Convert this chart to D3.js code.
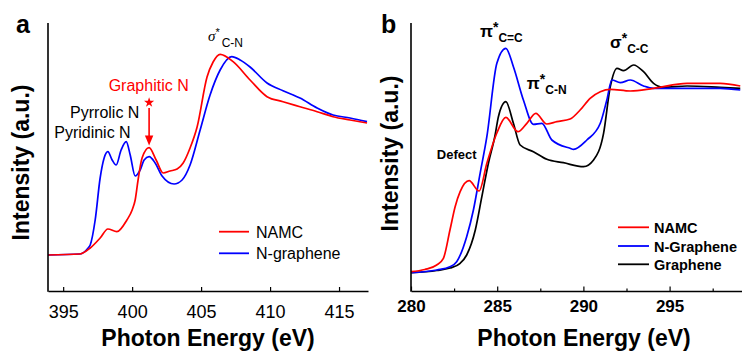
<!DOCTYPE html>
<html><head><meta charset="utf-8">
<script src="https://cdn.jsdelivr.net/npm/d3@7"></script>
<style>
html,body{margin:0;padding:0;background:#fff;}
svg text{font-family:"Liberation Sans",Arial,sans-serif;}
</style></head>
<body>
<svg id="c" width="742" height="356"></svg>
<script>
// ---------- Panel a data (N K-edge) ----------
const aNAMC_E = [393.9,396.2,396.96,397.68,398.24,398.89,399.62,400.0,400.22,400.43,400.72,401.23,401.74,402.25,402.75,403.26,403.7,404.2,404.71,405.43,405.87,406.38,407.32,408.55,409.78,410.94,412.17,413.41,414.57,415.8,417.03];
const aNAMC_I = [36,37,43,53,62,59.3,71,81,91,111,133,143.3,131,118,120,122,128,143,164,214,229,236.7,229.3,211,194.3,189.3,184.3,179.3,174.3,171,168];
const aNG_E = [393.9,396.2,396.81,396.96,397.32,397.68,397.97,398.24,398.55,398.84,399.2,399.57,399.86,400.22,400.58,400.87,401.23,401.67,402.17,403.04,403.62,404.2,404.93,405.65,406.38,407.22,407.83,408.55,409.78,410.94,412.17,413.41,414.57,415.8,417.03];
const aNG_I = [36,37,43,46,71,113,133,139.3,131,126,141,149.3,136,115,121,131,134.3,128,115,107,111,126,161,196,221,234.3,231,224,208,200.3,193,183,176,173,169.3];
const aTicks = [395,400,405,410,415];
const aSeries = ["NAMC","N-graphene"];

// ---------- Panel b data (C K-edge) ----------
const bNAMC_E = [280.0,280.8,281.49,281.88,282.26,282.56,282.85,283.37,283.95,284.4,284.98,285.5,286.2,286.72,287.24,287.88,288.46,289.23,289.81,290.39,290.98,291.56,292.72,294.07,296.01,297.94,299.1];
const bNAMC_I = [19.3,21.5,26,32.7,61,84.3,99.3,110.3,100,127.7,158,173.7,159.3,167.7,177.7,167,169.3,172,181,192.7,199.3,201.7,200,202.7,207.7,207.7,205];
const bNG_E = [280.0,281.5,282.26,282.65,283.23,283.62,284.01,284.4,284.98,285.5,285.94,286.52,287.1,287.59,288.17,289.23,289.43,290.2,290.98,291.36,291.65,292.14,292.72,293.49,294.07,296.01,297.94,299.1];
const bNG_I = [18.3,21,24.3,29.3,54.3,81,117.7,154.3,227.7,242.7,224.3,191,166.7,167.7,151,142.7,141.7,151,167.7,191,211,208.3,211,205,202.7,202.7,202.7,201];
const bG_E = [280.0,281.5,282.26,282.85,283.23,283.73,284.11,284.49,284.88,285.07,285.5,285.94,286.33,287.1,287.88,288.84,290.01,290.59,291.17,291.56,291.95,292.33,292.91,293.49,294.07,294.65,296.01,297.94,299.1];
const bG_I = [18.3,20.5,23,27.7,36,61,94.3,127.7,156,174.3,189.3,167.7,146,139.3,131.7,128.3,124.3,131,157.7,204.3,222.7,220.3,226,219.3,207.7,203.7,205,203.7,202.7];
const bTicks = [280,285,290,295];
const bMinor = [282.5,287.5,292.5,297.5];
const bSeries = ["NAMC","N-Graphene","Graphene"];

const RED = "#ff0000", BLUE = "#0000ff", BLACK = "#000000";
const svg = d3.select("#c");
const FONT = '"Liberation Sans",Arial,sans-serif';

function zip(E, I){ return E.map((e,i)=>({e, v:I[i]})); }

// ---------------- Panel a ----------------
{
  const x = d3.scaleLinear().domain([393.9, 417.1]).range([48, 368]);
  const y = d3.scaleLinear().domain([0, 268]).range([291, 23]);
  const g = svg.append("g");
  const line = d3.line().x(d=>x(d.e)).y(d=>y(d.v)).curve(d3.curveMonotoneX);

  g.append("path").datum(zip(aNG_E,aNG_I)).attr("d",line).attr("fill","none").attr("stroke",BLUE).attr("stroke-width",1.7);
  g.append("path").datum(zip(aNAMC_E,aNAMC_I)).attr("d",line).attr("fill","none").attr("stroke",RED).attr("stroke-width",1.7);

  const ax = g.append("g").attr("transform","translate(0,291)")
    .call(d3.axisBottom(x).tickValues(aTicks).tickFormat(d3.format("d")).tickSizeInner(-4).tickSizeOuter(0).tickPadding(14));
  ax.select(".domain").attr("stroke-width",1.6);
  ax.selectAll(".tick line").attr("stroke-width",1.2);
  ax.selectAll("text").attr("font-size",18).attr("font-family",FONT).attr("fill","#000");
  g.append("line").attr("x1",48).attr("x2",48).attr("y1",y(268)).attr("y2",y(0)+0.8).attr("stroke","#000").attr("stroke-width",1.6);

  g.append("text").attr("x",x(405.5)).attr("y",346).attr("text-anchor","middle").attr("font-size",23).attr("font-weight","bold").text("Photon Energy (eV)");
  g.append("text").attr("transform","translate(29,162.5) rotate(-90)").attr("text-anchor","middle").attr("font-size",23).attr("font-weight","bold").text("Intensity (a.u.)");
  g.append("text").attr("x",16).attr("y",33).attr("font-size",25).attr("font-weight","bold").text("a");

  // annotations
  const sig = g.append("text").attr("x",x(405.5)).attr("y",y(291-40.5)).attr("font-size",15);
  sig.append("tspan").attr("font-family",'"Liberation Serif","Times New Roman",serif').attr("font-style","italic").text("σ");
  sig.append("tspan").attr("font-size",11).attr("dy",-5).text("*");
  sig.append("tspan").attr("font-size",12).attr("dx",2).attr("dy",11).text("C-N");

  g.append("text").attr("x",x(401.2)).attr("y",y(291-90.7)).attr("text-anchor","middle").attr("font-size",16).attr("fill",RED).text("Graphitic N");
  g.append("path").attr("d",d3.symbol(d3.symbolStar,32)()).attr("transform",`translate(${x(401.23)},${y(291-102.5)})`).attr("fill",RED);
  g.append("line").attr("x1",x(401.23)).attr("x2",x(401.23)).attr("y1",y(291-108)).attr("y2",y(291-137)).attr("stroke",RED).attr("stroke-width",1.6);
  const tx = x(401.23), ty = y(291-145.5);
  g.append("path").attr("d",`M${tx},${ty} L${tx-4.2},${ty-10} L${tx+4.2},${ty-10} Z`).attr("fill",RED);
  g.append("text").attr("x",x(395.5)).attr("y",y(291-118)).attr("font-size",16).text("Pyrrolic N");
  g.append("text").attr("x",x(394.35)).attr("y",y(291-137.5)).attr("font-size",16).text("Pyridinic N");

  // legend
  const lg = [[aSeries[0],RED,231.7],[aSeries[1],BLUE,253.3]];
  lg.forEach(([t,c,yy])=>{
    g.append("line").attr("x1",219).attr("x2",249).attr("y1",yy).attr("y2",yy).attr("stroke",c).attr("stroke-width",1.8);
    g.append("text").attr("x",256).attr("y",yy+6).attr("font-size",16).text(t);
  });
}

// ---------------- Panel b ----------------
{
  const x = d3.scaleLinear().domain([280, 299.2]).range([411, 742]);
  const y = d3.scaleLinear().domain([0, 268]).range([291, 23]);
  const g = svg.append("g");
  const line = d3.line().x(d=>x(d.e)).y(d=>y(d.v)).curve(d3.curveMonotoneX);

  g.append("path").datum(zip(bG_E,bG_I)).attr("d",line).attr("fill","none").attr("stroke",BLACK).attr("stroke-width",1.7);
  g.append("path").datum(zip(bNG_E,bNG_I)).attr("d",line).attr("fill","none").attr("stroke",BLUE).attr("stroke-width",1.7);
  g.append("path").datum(zip(bNAMC_E,bNAMC_I)).attr("d",line).attr("fill","none").attr("stroke",RED).attr("stroke-width",1.7);

  const axm = g.append("g").attr("transform","translate(0,291)")
    .call(d3.axisBottom(x).tickValues(bMinor).tickFormat("").tickSizeInner(-2.5).tickSizeOuter(0));
  axm.select(".domain").remove();
  axm.selectAll(".tick line").attr("stroke-width",1.2);
  const ax = g.append("g").attr("transform","translate(0,291)")
    .call(d3.axisBottom(x).tickValues(bTicks).tickFormat(d3.format("d")).tickSizeInner(-4.5).tickSizeOuter(0).tickPadding(9));
  ax.select(".domain").attr("stroke-width",1.6);
  ax.selectAll(".tick line").attr("stroke-width",1.2);
  ax.selectAll("text").attr("font-size",17).attr("font-weight","bold").attr("font-family",FONT).attr("fill","#000");
  g.append("line").attr("x1",411).attr("x2",411).attr("y1",y(268)).attr("y2",y(0)+0.8).attr("stroke","#000").attr("stroke-width",1.6);

  g.append("text").attr("x",584).attr("y",346).attr("text-anchor","middle").attr("font-size",23).attr("font-weight","bold").text("Photon Energy (eV)");
  g.append("text").attr("transform","translate(397.5,153.5) rotate(-90)").attr("text-anchor","middle").attr("font-size",23).attr("font-weight","bold").text("Intensity (a.u.)");
  g.append("text").attr("x",381).attr("y",33).attr("font-size",25).attr("font-weight","bold").text("b");

  function lab(e, base, main, sub){
    const t = g.append("text").attr("x",x(e)).attr("y",y(291-base)).attr("font-size",17).attr("font-weight","bold");
    t.append("tspan").text(main);
    t.append("tspan").attr("font-size",14).attr("dy",-5).text("*");
    t.append("tspan").attr("font-size",12).attr("dy",10).text(sub);
  }
  lab(284.0, 36.5, "π", "C=C");
  lab(286.72, 89, "π", "C-N");
  lab(291.55, 48.3, "σ", "C-C");
  g.append("text").attr("x",x(281.5)).attr("y",y(291-159)).attr("font-size",13).attr("font-weight","bold").text("Defect");

  const lg = [[bSeries[0],RED,227.3],[bSeries[1],BLUE,246],[bSeries[2],BLACK,264.3]];
  lg.forEach(([t,c,yy])=>{
    g.append("line").attr("x1",618).attr("x2",649).attr("y1",yy).attr("y2",yy).attr("stroke",c).attr("stroke-width",1.8);
    g.append("text").attr("x",654).attr("y",yy+5.5).attr("font-size",14.5).attr("font-weight","bold").text(t);
  });
}
</script>
</body></html>
